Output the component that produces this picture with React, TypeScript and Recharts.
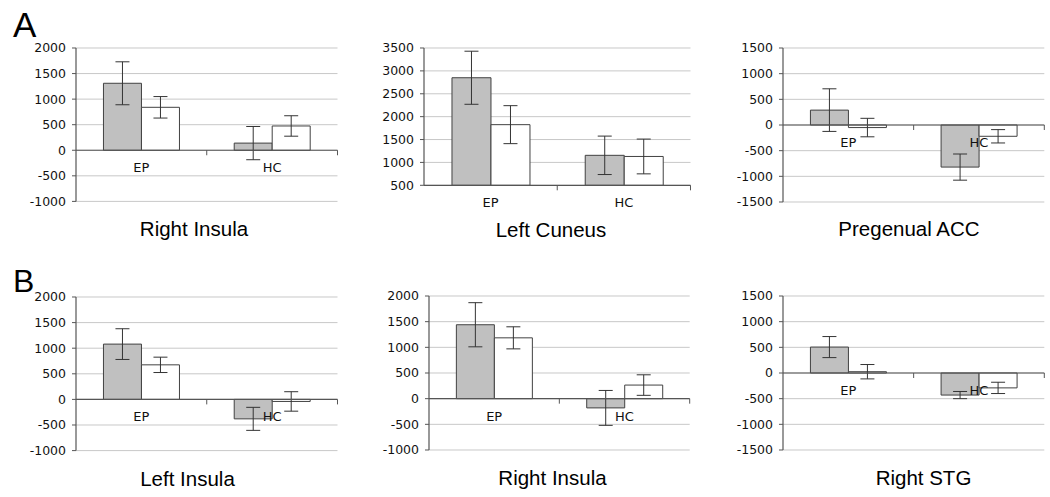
import React from 'react';
import { BarChart, Bar, XAxis, YAxis, CartesianGrid, ReferenceLine, ErrorBar } from 'recharts';

const categories = ['EP', 'HC'];

// Panel A - Right Insula
const aRightInsulaGray = [1310, 140];
const aRightInsulaGrayErr = [420, 325];
const aRightInsulaWhite = [840, 475];
const aRightInsulaWhiteErr = [210, 200];
const aRightInsulaTicks = [-1000, -500, 0, 500, 1000, 1500, 2000];

// Panel A - Left Cuneus
const aLeftCuneusGray = [2850, 1155];
const aLeftCuneusGrayErr = [580, 420];
const aLeftCuneusWhite = [1825, 1130];
const aLeftCuneusWhiteErr = [415, 380];
const aLeftCuneusTicks = [500, 1000, 1500, 2000, 2500, 3000, 3500];

// Panel A - Pregenual ACC
const aPregenualGray = [290, -820];
const aPregenualGrayErr = [415, 255];
const aPregenualWhite = [-50, -220];
const aPregenualWhiteErr = [180, 130];
const aPregenualTicks = [-1500, -1000, -500, 0, 500, 1000, 1500];

// Panel B - Left Insula
const bLeftInsulaGray = [1080, -380];
const bLeftInsulaGrayErr = [300, 225];
const bLeftInsulaWhite = [675, -40];
const bLeftInsulaWhiteErr = [150, 190];
const bLeftInsulaTicks = [-1000, -500, 0, 500, 1000, 1500, 2000];

// Panel B - Right Insula
const bRightInsulaGray = [1440, -180];
const bRightInsulaGrayErr = [430, 340];
const bRightInsulaWhite = [1185, 265];
const bRightInsulaWhiteErr = [215, 200];
const bRightInsulaTicks = [-1000, -500, 0, 500, 1000, 1500, 2000];

// Panel B - Right STG
const bRightSTGGray = [505, -430];
const bRightSTGGrayErr = [205, 70];
const bRightSTGWhite = [25, -290];
const bRightSTGWhiteErr = [140, 110];
const bRightSTGTicks = [-1500, -1000, -500, 0, 500, 1000, 1500];

const YW = 60;
const MT = 10;
const MR = 8;
const MB = 30;

const AXIS = '#555555';
const GRID = '#c8c8c8';
const TXT = '#111111';
const VFONT = "'DejaVu Sans', Verdana, sans-serif";

const CatLabels = (props: any) => {
  const vb = props.viewBox || {};
  const x = vb.x ?? 0;
  const y = vb.y ?? 0;
  const width = vb.width ?? 0;
  const band = width / categories.length;
  return (
    <g>
      {categories.map((c, i) => (
        <line key={'t' + i} x1={x + band * (i + 1)} x2={x + band * (i + 1)} y1={y} y2={y + 5} stroke={AXIS} strokeWidth={1} />
      ))}
      {categories.map((c, i) => (
        <text key={c} x={x + band * (i + 0.5)} y={y + 22} textAnchor="middle" fill={TXT} fontSize={13} fontFamily={VFONT}>
          {c}
        </text>
      ))}
    </g>
  );
};

type PanelProps = {
  l: number; t: number; w: number; h: number;
  gray: number[]; grayErr: number[]; white: number[]; whiteErr: number[]; ticks: number[];
};

function Panel({ l, t, w, h, gray, grayErr, white, whiteErr, ticks }: PanelProps) {
  const data = categories.map((c, i) => ({ cat: c, g: gray[i], ge: grayErr[i], wv: white[i], we: whiteErr[i] }));
  const lo = ticks[0];
  const hi = ticks[ticks.length - 1];
  const base = lo > 0 ? lo : 0;
  return (
    <div style={{ position: 'absolute', left: l - YW, top: t - MT }}>
      <BarChart
        width={YW + w + MR}
        height={MT + h + MB}
        data={data}
        margin={{ top: MT, right: MR, bottom: MB, left: 0 }}
        barGap={0}
        barCategoryGap="21%"
      >
        <CartesianGrid vertical={false} stroke={GRID} strokeWidth={1} />
        <XAxis dataKey="cat" hide />
        <YAxis
          width={YW}
          domain={[lo, hi]}
          ticks={ticks}
          interval={0}
          allowDataOverflow
          tickSize={4}
          tickMargin={6}
          axisLine={{ stroke: AXIS, strokeWidth: 1.2 }}
          tickLine={{ stroke: AXIS }}
          tick={{ fill: TXT, fontSize: 12.5, fontFamily: VFONT }}
        />
        <Bar dataKey="g" fill="#c0c0c0" stroke="#404040" strokeWidth={1} isAnimationActive={false}>
          <ErrorBar dataKey="ge" width={7} stroke="#333333" strokeWidth={1} isAnimationActive={false} />
        </Bar>
        <Bar dataKey="wv" fill="#ffffff" stroke="#404040" strokeWidth={1} isAnimationActive={false}>
          <ErrorBar dataKey="we" width={7} stroke="#333333" strokeWidth={1} isAnimationActive={false} />
        </Bar>
        <ReferenceLine y={base} stroke={AXIS} strokeWidth={1.2} label={(p: any) => <CatLabels {...p} />} />
      </BarChart>
    </div>
  );
}

const titleStyle = { fontFamily: "'Liberation Sans', Arial, sans-serif", fontSize: 20.5, fill: '#000' };

export default function App() {
  return (
    <div style={{ position: 'absolute', left: 0, top: 0, width: 1050, height: 497, background: '#fff', overflow: 'hidden' }}>
      <svg width={1050} height={497} style={{ position: 'absolute', left: 0, top: 0 }}>
        <text x={13} y={36.7} fontFamily="'Liberation Sans', Arial, sans-serif" fontSize={35} fill="#000">A</text>
        <text x={13} y={292} fontFamily="'Liberation Sans', Arial, sans-serif" fontSize={32} fill="#000">B</text>
        <text x={194} y={236} textAnchor="middle" style={titleStyle}>Right Insula</text>
        <text x={551} y={237} textAnchor="middle" style={titleStyle}>Left Cuneus</text>
        <text x={909} y={236} textAnchor="middle" style={titleStyle}>Pregenual ACC</text>
        <text x={187.5} y={486} textAnchor="middle" style={titleStyle}>Left Insula</text>
        <text x={552.5} y={485} textAnchor="middle" style={titleStyle}>Right Insula</text>
        <text x={923.5} y={484.5} textAnchor="middle" style={titleStyle}>Right STG</text>
      </svg>
      <Panel l={75.5} t={48.3} w={261.5} h={153.4} gray={aRightInsulaGray} grayErr={aRightInsulaGrayErr} white={aRightInsulaWhite} whiteErr={aRightInsulaWhiteErr} ticks={aRightInsulaTicks} />
      <Panel l={423.5} t={47.7} w={266.5} h={137.3} gray={aLeftCuneusGray} grayErr={aLeftCuneusGrayErr} white={aLeftCuneusWhite} whiteErr={aLeftCuneusWhiteErr} ticks={aLeftCuneusTicks} />
      <Panel l={782.7} t={47.7} w={261.3} h={154} gray={aPregenualGray} grayErr={aPregenualGrayErr} white={aPregenualWhite} whiteErr={aPregenualWhiteErr} ticks={aPregenualTicks} />
      <Panel l={75.5} t={296.7} w={261.5} h={153.6} gray={bLeftInsulaGray} grayErr={bLeftInsulaGrayErr} white={bLeftInsulaWhite} whiteErr={bLeftInsulaWhiteErr} ticks={bLeftInsulaTicks} />
      <Panel l={429.3} t={296.3} w={260.7} h={154} gray={bRightInsulaGray} grayErr={bRightInsulaGrayErr} white={bRightInsulaWhite} whiteErr={bRightInsulaWhiteErr} ticks={bRightInsulaTicks} />
      <Panel l={782.7} t={296.3} w={261.3} h={154} gray={bRightSTGGray} grayErr={bRightSTGGrayErr} white={bRightSTGWhite} whiteErr={bRightSTGWhiteErr} ticks={bRightSTGTicks} />
    </div>
  );
}
